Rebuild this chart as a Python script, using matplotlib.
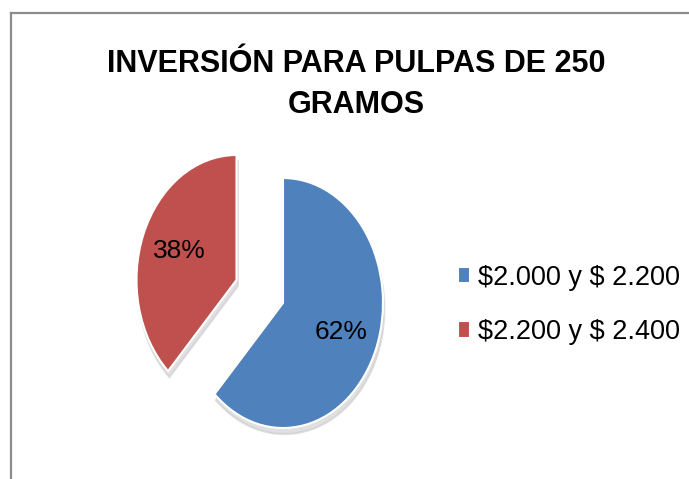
import matplotlib
matplotlib.use('Agg')
import matplotlib.pyplot as plt
from matplotlib import font_manager
from matplotlib.lines import Line2D

# data
labels = ['$2.000 y $ 2.200', '$2.200 y $ 2.400']
values = [62, 38]
colors = ['#4F81BD', '#C0504D']
explode = [0, 0.5]
title_lines = ['INVERSIÓN PARA PULPAS DE 250', 'GRAMOS']

W, H = 689, 479
installed = {f.name for f in font_manager.fontManager.ttflist}
title_font = 'Liberation Sans Narrow' if 'Liberation Sans Narrow' in installed else 'Liberation Sans'
title_size = 26.5 if title_font == 'Liberation Sans Narrow' else 22

plt.rcParams['font.family'] = ['Liberation Sans', 'DejaVu Sans']
plt.rcParams['text.usetex'] = False
plt.rcParams['text.parse_math'] = False

fig = plt.figure(figsize=(W / 100, H / 100), dpi=100)
fig.patch.set_facecolor('white')

# outer frame (only top/left visible in the reference)
fig.add_artist(Line2D([11 / W, 11 / W], [0, 1 - 13 / H], color='#8c8c8c', lw=1.6,
                      transform=fig.transFigure))
fig.add_artist(Line2D([11 / W, 1], [1 - 13 / H, 1 - 13 / H], color='#8c8c8c', lw=1.6,
                      transform=fig.transFigure))

# title
fig.text(356 / W, 1 - 72 / H, title_lines[0], ha='center', va='baseline',
         fontsize=title_size, fontweight='bold', family=[title_font, 'DejaVu Sans'])
fig.text(356 / W, 1 - 113 / H, title_lines[1], ha='center', va='baseline',
         fontsize=title_size, fontweight='bold', family=[title_font, 'DejaVu Sans'])

# pie axes: centre at (283, 303) px, 100 px per unit horizontally, 125 vertically
cx, cy = 283, H - 303
ax = fig.add_axes([(cx - 180) / W, (cy - 175) / H, 360 / W, 350 / H])
wedges, texts, autotexts = ax.pie(
    values, colors=colors, explode=explode, startangle=90, counterclock=False,
    autopct='%1.0f%%', pctdistance=0.62,
    wedgeprops=dict(edgecolor='white', linewidth=1.5),
    shadow={'ox': 0.01, 'oy': -0.035, 'facecolor': '#c8c8c8',
            'edgecolor': '#c8c8c8', 'alpha': 0.55},
    textprops=dict(fontsize=19, color='black'))
ax.set_aspect('auto')
ax.set_xlim(-1.8, 1.8)
ax.set_ylim(-1.4, 1.4)
ax.axis('off')

fig.legend(wedges, labels, loc='center left', bbox_to_anchor=(458 / W, 1 - 305 / H),
           frameon=False, fontsize=19.5, handlelength=0.45, handleheight=0.55,
           handletextpad=0.3, labelspacing=1.05, borderpad=0, borderaxespad=0)

fig.savefig('out.png', dpi=100)
